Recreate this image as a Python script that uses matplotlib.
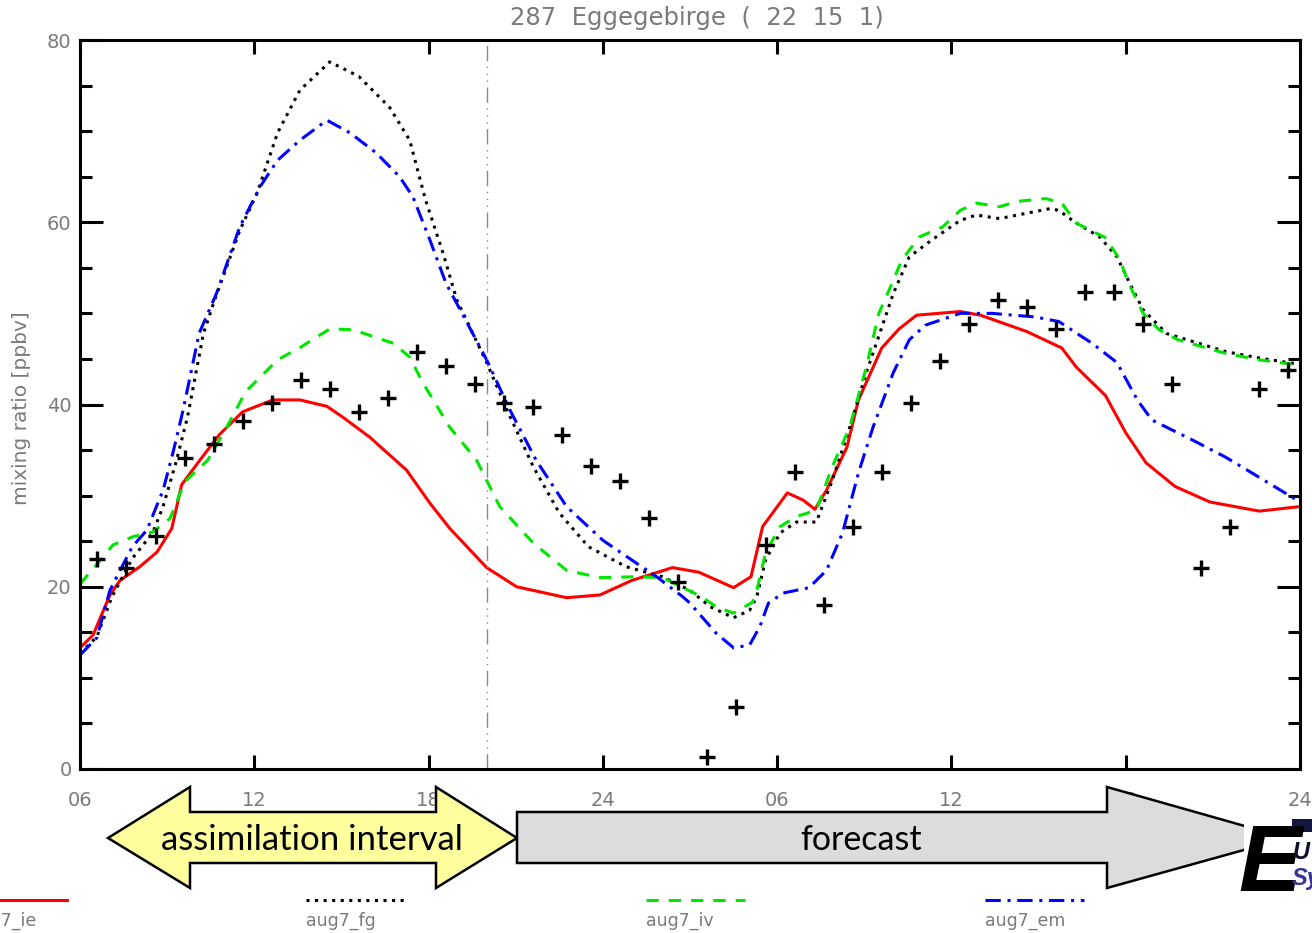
import matplotlib
matplotlib.use("Agg")
import matplotlib.pyplot as plt
from matplotlib.patches import Polygon, Rectangle

# tempo em horas desde 00 UTC do primeiro dia
obs_t = [6.6, 7.6, 8.6, 9.6, 10.6, 11.6, 12.6, 13.6, 14.6, 15.6, 16.6, 17.6, 18.6, 19.6,
         20.6, 21.6, 22.6, 23.6, 24.6, 25.6, 26.6, 27.6, 28.6, 29.6, 30.6, 31.6, 32.6, 33.6,
         34.6, 35.6, 36.6, 37.6, 38.6, 39.6, 40.6, 41.6, 42.6, 43.6, 44.6, 45.6, 46.6, 47.6]
obs_y = [23.0, 22.1, 25.6, 34.1, 35.7, 38.2, 40.2, 42.7, 41.7, 39.2, 40.7, 45.8, 44.2, 42.2,
         40.2, 39.7, 36.6, 33.2, 31.6, 27.5, 20.5, 1.3, 6.8, 24.6, 32.6, 18.0, 26.6, 32.6,
         40.2, 44.8, 48.8, 51.5, 50.7, 48.3, 52.3, 52.3, 48.8, 42.2, 22.1, 26.6, 41.7, 43.8]

ie_t = [6.0, 6.45, 7.03, 7.38, 8.06, 8.65, 9.16, 9.5, 10.13, 10.8, 11.6, 12.64, 13.57, 14.5,
        15.05, 15.98, 17.24, 18.04, 18.73, 20.0, 21.03, 22.75, 23.9, 25.0, 26.4, 27.3, 28.5,
        29.1, 29.5, 30.35, 30.9, 31.3, 31.7, 32.4, 32.8, 33.6, 34.2, 34.8, 36.3, 37.0, 38.6,
        39.8, 40.3, 41.3, 42.0, 42.7, 43.7, 44.9, 46.6, 48.0]
ie_y = [13.3, 14.7, 19.1, 20.7, 22.2, 23.8, 26.4, 31.2, 33.9, 36.7, 39.2, 40.5, 40.5, 39.8,
        38.6, 36.4, 32.8, 29.2, 26.4, 22.1, 20.0, 18.8, 19.1, 20.7, 22.1, 21.6, 19.9,
        21.1, 26.6, 30.3, 29.5, 28.5, 30.6, 35.3, 40.5, 46.2, 48.3, 49.8, 50.2, 49.8, 48.0,
        46.2, 44.1, 41.0, 36.9, 33.6, 31.0, 29.3, 28.3, 28.8]

iv_t = [6.0, 6.62, 7.14, 7.83, 8.5, 9.1, 9.6, 10.4, 11.05, 11.7, 12.8, 13.6, 14.6, 15.4,
        16.8, 17.35, 17.8, 18.73, 19.65, 20.45, 21.6, 22.75, 23.9, 25.15, 26.05, 27.4, 27.9,
        28.5, 29.15, 29.3, 29.6, 30.1, 30.66, 31.35, 31.9, 32.5, 33.07, 33.5, 33.86, 34.3,
        34.9, 35.7, 36.3, 36.86, 37.65, 38.3, 39.25, 39.8, 40.3, 41.3, 41.8, 42.1, 42.6,
        43.15, 43.8, 45.45, 46.6, 48.0]
iv_y = [20.3, 22.6, 24.6, 25.5, 26.0, 27.5, 31.5, 33.9, 37.5, 41.4, 44.9, 46.3, 48.3, 48.2,
        46.7, 45.2, 42.4, 37.5, 33.9, 28.8, 24.8, 21.8, 21.0, 21.1, 21.0, 18.9, 17.8,
        17.1, 18.3, 19.6, 23.7, 26.6, 27.7, 28.4, 33.2, 37.5, 44.1, 50.0, 52.6, 55.9,
        58.4, 59.5, 61.3, 62.1, 61.7, 62.3, 62.6, 62.1, 59.9, 58.3, 55.9, 53.3, 50.0,
        48.2, 47.1, 45.6, 44.9, 44.3]

fg_t = [6.0, 6.58, 7.1, 7.8, 8.5, 8.86, 9.3, 9.7, 10.25, 10.64, 11.5, 12.1, 12.8, 13.57,
        14.6, 15.6, 16.66, 17.35, 17.9, 18.5, 18.97, 20.0, 20.7, 21.6, 22.5, 23.5, 24.8,
        26.05, 27.0, 27.7, 28.5, 29.05, 29.3, 29.6, 30.1, 30.66, 31.35, 31.9, 32.5, 33.07,
        33.5, 34.0, 34.55, 35.3, 36.3, 36.86, 37.65, 38.6, 39.4, 39.7, 40.3, 41.1, 41.7,
        42.2, 42.6, 43.4, 45.45, 46.6, 48.0]
fg_y = [12.7, 14.5, 18.9, 23.1, 25.9, 28.8, 33.6, 38.6, 47.8, 51.5, 59.1, 63.2, 69.8, 74.5,
        77.6, 76.0, 72.6, 69.0, 62.4, 56.6, 51.5, 44.6, 39.4, 33.2, 28.1, 24.4, 22.2,
        21.1, 19.6, 17.8, 16.6, 17.4, 18.9, 22.9, 25.9, 27.1, 27.1, 31.7, 37.5, 43.5,
        47.5, 52.2, 56.2, 58.0, 60.2, 60.8, 60.4, 61.0, 61.5, 61.3, 59.9, 58.4, 56.2,
        52.9, 50.4, 47.8, 45.8, 45.1, 44.4]

em_t = [6.0, 6.58, 7.03, 7.8, 8.3, 8.86, 9.2, 9.55, 10.1, 10.7, 11.5, 12.2, 12.8, 13.57,
        14.5, 15.3, 16.2, 17.0, 17.46, 18.04, 18.6, 18.97, 20.0, 20.8, 21.7, 22.75, 24.0,
        25.15, 25.85, 26.75, 27.0, 27.9, 28.5, 29.05, 29.4, 29.7, 30.2, 31.1, 31.7, 32.25,
        32.8, 33.3, 34.0, 34.55, 35.1, 36.3, 37.4, 38.9, 39.7, 40.85, 41.7, 42.4, 42.9,
        44.3, 45.45, 46.6, 48.0]
em_y = [12.5, 14.4, 19.6, 24.4, 26.2, 30.6, 34.7, 39.4, 47.8, 52.2, 59.5, 63.9, 66.8, 69.0,
        71.2, 69.8, 67.6, 65.0, 62.8, 58.1, 53.3, 51.1, 44.9, 39.4, 33.9, 28.8, 25.1,
        22.6, 21.1, 18.9, 18.2, 14.9, 13.3, 13.6, 15.6, 18.2, 19.3, 19.9, 21.8, 25.9,
        32.5, 37.5, 43.5, 47.1, 48.7, 50.0, 50.0, 49.6, 49.1, 46.7, 44.6, 40.5, 38.3,
        36.1, 34.2, 32.0, 29.3]

xticks = [6, 12, 18, 24, 30, 36, 42, 48]
xticklabels = ["06", "12", "18", "24", "06", "12", "18", "24"]
fim_assimilacao = 20.0

W, H = 1312, 933
cinza = "#7a7a7a"
juntas = dict(solid_joinstyle="round", dash_joinstyle="round")

fig = plt.figure(figsize=(W / 100, H / 100), dpi=100)
ax = fig.add_axes([80 / W, 1 - 769 / H, 1220 / W, 729 / H])

ax.plot(ie_t, ie_y, color="#ff0000", lw=2.2, **juntas)
ax.plot(fg_t, fg_y, color="black", lw=2.2, linestyle=(0, (1, 1.8)), **juntas)
ax.plot(iv_t, iv_y, color="#00e600", lw=2.2, linestyle=(0, (4, 3.3)), **juntas)
ax.plot(em_t, em_y, color="#0000ff", lw=2.2, linestyle=(0, (5, 2.2, 1, 2.2)), **juntas)
ax.plot(obs_t, obs_y, "+", color="black", ms=12, mew=2.4)
ax.axvline(fim_assimilacao, color="#888888", lw=1,
           linestyle=(0, (11, 4, 1, 4, 1, 4, 1, 4)))

ax.set_xlim(6, 48)
ax.set_ylim(0, 80)
ax.set_xticks(xticks)
ax.set_xticklabels(xticklabels)
ax.set_yticks([0, 20, 40, 60, 80])
ax.set_yticks(range(0, 81, 5), minor=True)
for s in ax.spines.values():
    s.set_linewidth(2.2)
ax.tick_params(axis="x", which="major", direction="in", length=10, width=2.2,
               top=True, pad=16, labelsize=14, labelcolor=cinza)
ax.tick_params(axis="y", which="major", direction="in", length=16.5, width=2.2,
               right=True, pad=6, labelsize=14, labelcolor=cinza)
ax.tick_params(axis="y", which="minor", direction="in", length=8.5, width=2.2, right=True)

fig.text(697 / W, 1 - 18 / H, "287  Eggegebirge  (  22  15  1)", ha="center", va="center",
         fontsize=17.5, color=cinza)
fig.text(22 / W, 1 - 408 / H, "mixing ratio [ppbv]", rotation=90, ha="center", va="center",
         fontsize=14.5, color=cinza)

# camada por cima em pixels: setas, legenda e logotipo
ov = fig.add_axes([0, 0, 1, 1], zorder=5)
ov.set_xlim(0, W)
ov.set_ylim(H, 0)
ov.axis("off")

seta_amarela = [(108, 838), (190, 787), (190, 812), (436, 812), (436, 787), (517, 838),
                (436, 888), (436, 863), (190, 863), (190, 888)]
ov.add_patch(Polygon(seta_amarela, closed=True, facecolor="#ffff9e", edgecolor="black", lw=1.8))
seta_cinza = [(517, 812), (1107, 812), (1107, 787), (1287, 838), (1107, 888), (1107, 863),
              (517, 863)]
ov.add_patch(Polygon(seta_cinza, closed=True, facecolor="#dcdcdc", edgecolor="black", lw=1.8))
ov.text(312, 840, "assimilation interval", ha="center", va="center", fontsize=25,
        family="Lato", color="black")
ov.text(861, 840, "forecast", ha="center", va="center", fontsize=24.5, family="Lato",
        color="black")

# logotipo
ov.add_patch(Rectangle((1244, 814), 70, 82, facecolor="white", edgecolor="none"))
ov.add_patch(Rectangle((1292, 819), 22, 13, facecolor="#15153f", edgecolor="none"))
ov.text(1238, 891, "E", ha="left", va="baseline", fontsize=68, fontweight="bold",
        style="italic", family="Liberation Sans", color="black")
ov.text(1293, 859, "U", ha="left", va="baseline", fontsize=17, fontweight="bold",
        style="italic", family="Liberation Sans", color="#0d0d30")
ov.text(1292, 885, "Sy", ha="left", va="baseline", fontsize=17, fontweight="bold",
        style="italic", family="Liberation Sans", color="#363690")

# legenda
legenda = [("aug7_ie", "#ff0000", "-", -32),
           ("aug7_fg", "black", (0, (1, 1.8)), 306),
           ("aug7_iv", "#00e600", (0, (4, 3.3)), 646),
           ("aug7_em", "#0000ff", (0, (5, 2.2, 1, 2.2)), 985)]
for nome, cor, estilo, x0 in legenda:
    ov.plot([x0, x0 + 99], [900, 900], color=cor, lw=2.2, linestyle=estilo)
    ov.text(x0, 921, nome, ha="left", va="center", fontsize=12.5, color=cinza)

fig.savefig("out.png", dpi=100)
